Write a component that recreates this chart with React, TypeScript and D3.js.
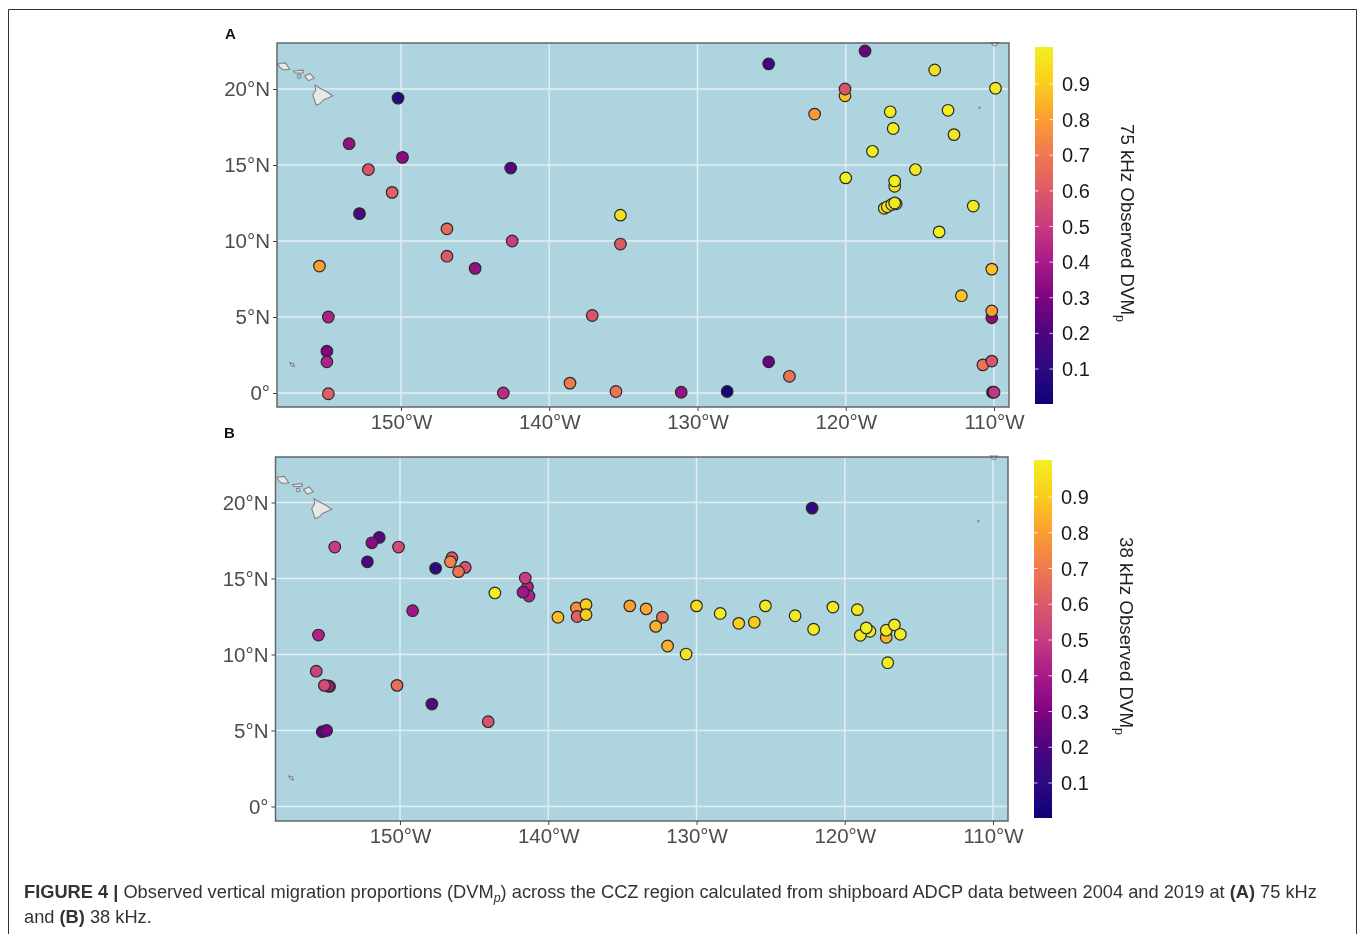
import React, { useEffect, useRef } from 'react'
import * as d3 from 'd3'

// station longitudes, latitudes and DVMp, panel A (75 kHz)
const lonA = [-150.2, -153.5, -149.9, -152.2, -150.6, -152.8, -142.6, -146.9, -146.9, -142.5, -145, -135.2, -135.2, -155.5, -154.9, -155, -155, -154.9, -137.1, -143.1, -138.6, -135.5, -131.1, -128, -125.2, -123.8, -125.2, -118.7, -122.1, -120.05, -120.05, -114, -109.9, -117, -113.1, -116.8, -112.7, -118.2, -120, -115.3, -116.7, -116.7, -117.4, -117.2, -116.9, -116.6, -116.7, -111.4, -113.7, -110.15, -112.2, -110.15, -110.15, -110.75, -110.15, -110.1, -110]
const latA = [19.4, 16.4, 15.5, 14.7, 13.2, 11.8, 14.8, 10.8, 9, 10, 8.2, 11.7, 9.8, 8.35, 5, 2.75, 2.05, -0.05, 5.1, 0, 0.65, 0.1, 0.05, 0.1, 2.05, 1.1, 21.65, 22.5, 18.35, 19.55, 20, 21.25, 20.05, 18.5, 18.6, 17.4, 17, 15.9, 14.15, 14.7, 13.6, 13.95, 12.15, 12.25, 12.4, 12.45, 12.5, 12.3, 10.6, 8.15, 6.4, 4.95, 5.4, 1.85, 2.1, 0.05, 0.05]
const dvmA = [0.08, 0.35, 0.33, 0.58, 0.62, 0.2, 0.22, 0.65, 0.6, 0.5, 0.35, 0.95, 0.6, 0.8, 0.42, 0.3, 0.42, 0.62, 0.58, 0.45, 0.7, 0.68, 0.35, 0.03, 0.25, 0.68, 0.15, 0.25, 0.78, 0.87, 0.58, 0.95, 0.98, 0.99, 0.99, 0.99, 0.97, 0.99, 1, 0.98, 0.95, 0.99, 0.95, 0.96, 0.97, 0.95, 0.98, 0.98, 1, 0.87, 0.88, 0.33, 0.8, 0.68, 0.58, 0.1, 0.48]

// same for panel B (38 kHz)
const lonB = [-154.4, -151.4, -151.9, -150.1, -152.2, -147.6, -146.5, -146.6, -145.6, -146.05, -143.6, -141.4, -141.3, -141.55, -141.7, -149.15, -139.35, -155.5, -155.65, -154.75, -154.85, -155.1, -150.2, -147.85, -144.05, -155.25, -154.95, -138.1, -138.05, -137.45, -137.45, -134.5, -133.4, -132.3, -132.75, -131.95, -130.7, -130, -128.4, -127.15, -126.1, -125.35, -123.35, -122.1, -120.8, -119.15, -118.3, -118.95, -118.55, -117.2, -117.2, -116.65, -116.25, -117.1, -122.2]
const latB = [17.07, 17.7, 17.35, 17.07, 16.1, 15.67, 16.37, 16.1, 15.73, 15.45, 14.05, 14.45, 13.85, 15.03, 14.1, 12.88, 12.45, 11.28, 8.9, 7.9, 7.93, 7.97, 7.97, 6.74, 5.58, 4.92, 5, 13.06, 12.5, 13.28, 12.62, 13.2, 13, 12.45, 11.85, 10.56, 10.03, 13.2, 12.7, 12.05, 12.12, 13.2, 12.55, 11.66, 13.12, 12.95, 11.53, 11.26, 11.75, 11.13, 11.6, 11.95, 11.33, 9.46, 19.63]
const dvmB = [0.5, 0.22, 0.33, 0.55, 0.2, 0.1, 0.58, 0.72, 0.58, 0.68, 1, 0.42, 0.42, 0.5, 0.38, 0.38, 0.87, 0.42, 0.52, 0.5, 0.4, 0.55, 0.66, 0.22, 0.58, 0.22, 0.28, 0.75, 0.62, 0.9, 0.89, 0.8, 0.82, 0.68, 0.84, 0.84, 0.97, 0.94, 0.99, 0.9, 0.89, 0.98, 0.98, 0.98, 0.98, 0.98, 0.98, 0.98, 1, 0.85, 0.98, 0.99, 0.99, 0.99, 0.1]

const lonTicks = [-150, -140, -130, -120, -110]
const latTicks = [0, 5, 10, 15, 20]
const dvmTicks = [0.1, 0.2, 0.3, 0.4, 0.5, 0.6, 0.7, 0.8, 0.9]

const rampColors = ['#10007a', '#2c0a80', '#4e0580', '#80057f', '#a81a8a', '#c83c80', '#dc5a68', '#f07a50', '#fa9e30', '#fbcd1e', '#f0f020']

// land, [lon, lat]
const bigIsland = [[-155.8, 20.25], [-155.46, 20.05], [-155, 19.82], [-154.6, 19.54], [-155.2, 19.3], [-155.5, 19.01], [-155.73, 18.95], [-155.95, 19.6], [-155.75, 19.93]]
const maui = [[-156.5, 20.85], [-156.14, 21.02], [-155.85, 20.7], [-156.25, 20.55]]
const molokai = [[-157.25, 21.18], [-156.6, 21.24], [-156.6, 21.05], [-157.15, 21.05]]
const lanai = [[-156.98, 20.92], [-156.78, 20.94], [-156.75, 20.74], [-156.94, 20.72]]
const oahu = [[-158.28, 21.68], [-157.8, 21.72], [-157.5, 21.3], [-157.94, 21.25], [-158.2, 21.43]]
const kiritimati = [[-157.5, 2], [-157.25, 1.95], [-157.2, 1.75], [-157.4, 1.8]]
const socorro = [[-111.02, 18.8], [-110.95, 18.8], [-110.95, 18.74], [-111.02, 18.74]]
const baja = [[-110.2, 23.05], [-109.7, 23.05], [-109.85, 22.85], [-110.05, 22.85]]
const land = [bigIsland, maui, molokai, lanai, oahu, kiritimati, socorro, baja]

const WIDTH = 1360
const HEIGHT = 934
const FONT = '"Liberation Sans", Arial, sans-serif'
const WATER = '#aed5df'
const GRID = '#e4eef1'
const LABEL = '#4d4d4d'

const ramp = d3.piecewise(d3.interpolateRgb, rampColors)

const fmtLon = (d: number) => `${Math.abs(d)}°W`
const fmtLat = (d: number) => (d === 0 ? '0°' : `${d}°N`)

function drawPanel(svg: any, p: any) {
  const x = d3.scaleLinear().domain([-150, -110]).range([p.x150, p.x110])
  const y = d3.scaleLinear().domain([0, 20]).range([p.y0, p.y20])
  const g = svg.append('g')

  g.append('rect')
    .attr('x', p.left).attr('y', p.top)
    .attr('width', p.right - p.left).attr('height', p.bottom - p.top)
    .attr('fill', WATER)

  // grid
  g.selectAll('.vgrid').data(lonTicks).enter().append('line')
    .attr('x1', (d: number) => x(d)).attr('x2', (d: number) => x(d))
    .attr('y1', p.top).attr('y2', p.bottom)
    .attr('stroke', GRID).attr('stroke-width', 1.4)
  g.selectAll('.hgrid').data(latTicks).enter().append('line')
    .attr('x1', p.left).attr('x2', p.right)
    .attr('y1', (d: number) => y(d)).attr('y2', (d: number) => y(d))
    .attr('stroke', GRID).attr('stroke-width', 1.4)

  const path = d3.line<number[]>().x(d => x(d[0])).y(d => y(d[1])).curve(d3.curveLinearClosed)
  g.selectAll('.land').data(land).enter().append('path')
    .attr('d', (d: number[][]) => path(d))
    .attr('fill', '#e8e8e8').attr('stroke', '#808285').attr('stroke-width', 1.1)

  // points, in the order of the arrays
  const color = d3.scaleSequential(ramp).domain([0, 1])
  g.selectAll('.pt').data(p.lon).enter().append('circle')
    .attr('cx', (d: number) => x(d))
    .attr('cy', (_: number, i: number) => y(p.lat[i]))
    .attr('r', 5.8)
    .attr('fill', (_: number, i: number) => color(p.dvm[i]))
    .attr('stroke', '#2a2a2a').attr('stroke-width', 1.2)

  g.append('rect')
    .attr('x', p.left).attr('y', p.top)
    .attr('width', p.right - p.left).attr('height', p.bottom - p.top)
    .attr('fill', 'none').attr('stroke', '#5f686b').attr('stroke-width', 1.5)

  const xAxis = g.append('g')
    .attr('transform', `translate(0,${p.bottom})`)
    .call(d3.axisBottom(x).tickValues(lonTicks).tickFormat(fmtLon as any).tickSize(4).tickPadding(3))
  const yAxis = g.append('g')
    .attr('transform', `translate(${p.left},0)`)
    .call(d3.axisLeft(y).tickValues(latTicks).tickFormat(fmtLat as any).tickSize(4).tickPadding(3))
  ;[xAxis, yAxis].forEach(a => {
    a.select('.domain').remove()
    a.selectAll('line').attr('stroke', '#444')
    a.selectAll('text').attr('fill', LABEL).style('font-family', FONT).style('font-size', '20.5px')
  })

  // colour bar
  const id = `bar-${p.name}`
  const grad = svg.append('defs').append('linearGradient')
    .attr('id', id).attr('x1', 0).attr('x2', 0).attr('y1', 1).attr('y2', 0)
  d3.range(0, 1.01, 0.05).forEach(t => {
    grad.append('stop').attr('offset', t).attr('stop-color', ramp(t))
  })
  const c = d3.scaleLinear().domain([0.1, 0.9]).range([p.bar01, p.bar09])
  svg.append('rect')
    .attr('x', p.barX).attr('y', p.barTop)
    .attr('width', p.barW).attr('height', p.barBottom - p.barTop)
    .attr('fill', `url(#${id})`)
  const ticks = svg.append('g').selectAll('g').data(dvmTicks).enter().append('g')
  ticks.append('line')
    .attr('x1', p.barX).attr('x2', p.barX + 3.5)
    .attr('y1', (d: number) => c(d)).attr('y2', (d: number) => c(d))
    .attr('stroke', '#fff').attr('stroke-opacity', 0.8)
  ticks.append('line')
    .attr('x1', p.barX + p.barW - 3.5).attr('x2', p.barX + p.barW)
    .attr('y1', (d: number) => c(d)).attr('y2', (d: number) => c(d))
    .attr('stroke', '#fff').attr('stroke-opacity', 0.8)
  ticks.append('text')
    .attr('x', p.barX + p.barW + 9)
    .attr('y', (d: number) => c(d) + 7)
    .attr('fill', '#1a1a1a')
    .style('font-family', FONT).style('font-size', '20px')
    .text((d: number) => d.toFixed(1))

  const title = svg.append('text')
    .attr('transform', `translate(${p.titleX},${p.titleY}) rotate(90)`)
    .attr('fill', '#222')
    .style('font-family', FONT).style('font-size', '18.7px')
  title.append('tspan').text(p.title)
  title.append('tspan').attr('dy', 5).style('font-size', '12.5px').text('p')

  svg.append('text')
    .attr('x', p.tagX).attr('y', p.tagY)
    .attr('fill', '#111')
    .style('font-family', FONT).style('font-size', '15px').style('font-weight', 700)
    .text(p.name)
}

const panels = [
  { name: 'A', lon: lonA, lat: latA, dvm: dvmA, left: 277, right: 1009, top: 43, bottom: 407, x150: 401, x110: 994, y0: 393, y20: 89, barX: 1035, barW: 18, barTop: 47, barBottom: 404, bar01: 369, bar09: 84, title: '75 kHz Observed DVM', titleX: 1121, titleY: 124, tagX: 225, tagY: 39 },
  { name: 'B', lon: lonB, lat: latB, dvm: dvmB, left: 275.5, right: 1008, top: 457, bottom: 821, x150: 400, x110: 993, y0: 806.5, y20: 502.5, barX: 1034, barW: 18, barTop: 460, barBottom: 818, bar01: 783, bar09: 497, title: '38 kHz Observed DVM', titleX: 1120, titleY: 537, tagX: 224, tagY: 438 },
]

export default function App() {
  const ref = useRef<SVGSVGElement>(null)

  useEffect(() => {
    const svg = d3.select(ref.current)
    svg.selectAll('*').remove()

    svg.append('rect').attr('width', WIDTH).attr('height', HEIGHT).attr('fill', '#fff')
    // figure frame, open at the bottom of the page
    svg.append('path')
      .attr('d', `M8.5 ${HEIGHT}V9.5H1356.5V${HEIGHT}`)
      .attr('fill', 'none').attr('stroke', '#333').attr('stroke-width', 1)

    panels.forEach(p => drawPanel(svg, p))

    // caption
    const cap = svg.append('text').attr('x', 24).attr('y', 898)
      .attr('fill', '#333')
      .style('font-family', FONT).style('font-size', '18.25px')
    cap.append('tspan').style('font-weight', 700).text('FIGURE 4 | ')
    cap.append('tspan').text('Observed vertical migration proportions (DVM')
    cap.append('tspan').attr('dy', 4).style('font-size', '12.5px').style('font-style', 'italic').text('p')
    cap.append('tspan').attr('dy', -4).text(') across the CCZ region calculated from shipboard ADCP data between 2004 and 2019 at ')
    cap.append('tspan').style('font-weight', 700).text('(A)')
    cap.append('tspan').text(' 75 kHz')
    const cap2 = svg.append('text').attr('x', 24).attr('y', 923)
      .attr('fill', '#333')
      .style('font-family', FONT).style('font-size', '18.25px')
    cap2.append('tspan').text('and ')
    cap2.append('tspan').style('font-weight', 700).text('(B)')
    cap2.append('tspan').text(' 38 kHz.')
  }, [])

  return <svg ref={ref} width={WIDTH} height={HEIGHT} style={{ position: 'absolute', left: 0, top: 0, filter: 'blur(0.35px)' }} />
}
